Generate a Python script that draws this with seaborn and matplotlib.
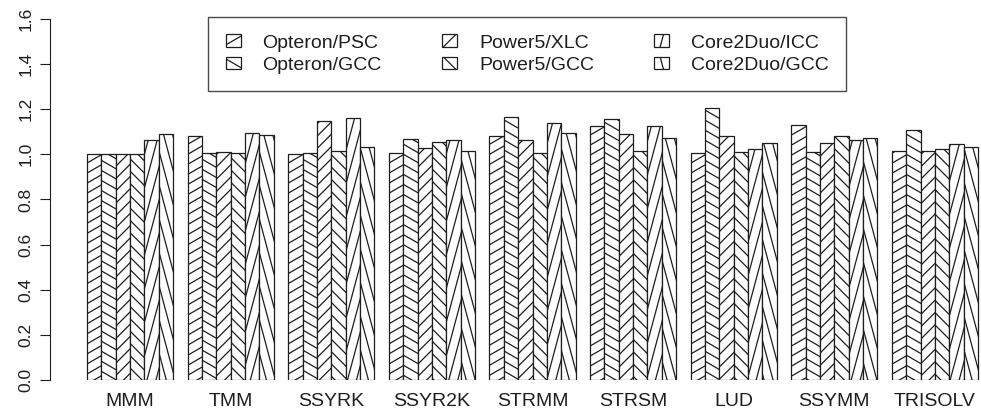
import numpy as np
import pandas as pd
import seaborn as sns
import matplotlib
matplotlib.use("Agg")
import matplotlib.pyplot as plt
from matplotlib.collections import LineCollection
from matplotlib.patches import Rectangle
from matplotlib.legend_handler import HandlerPatch

kernels = ["MMM", "TMM", "SSYRK", "SSYR2K", "STRMM", "STRSM", "LUD", "SSYMM", "TRISOLV"]
configs = ["Opteron/PSC", "Opteron/GCC", "Power5/XLC", "Power5/GCC", "Core2Duo/ICC", "Core2Duo/GCC"]

# speedup per kernel, one list per config
opteron_psc = [1.00, 1.08, 1.00, 1.005, 1.08, 1.127, 1.008, 1.13, 1.015]
opteron_gcc = [1.00, 1.005, 1.005, 1.067, 1.167, 1.157, 1.207, 1.012, 1.108]
power5_xlc = [1.00, 1.012, 1.148, 1.027, 1.064, 1.089, 1.081, 1.049, 1.015]
power5_gcc = [1.00, 1.005, 1.015, 1.054, 1.008, 1.015, 1.012, 1.083, 1.023]
core2_icc = [1.064, 1.096, 1.16, 1.064, 1.138, 1.127, 1.024, 1.064, 1.045]
core2_gcc = [1.089, 1.086, 1.034, 1.015, 1.093, 1.074, 1.049, 1.071, 1.034]

# hatch angle (degrees) for each config
angles = [30, 150, 45, 135, 75, 105]

values = [opteron_psc, opteron_gcc, power5_xlc, power5_gcc, core2_icc, core2_gcc]
df = pd.DataFrame({
    "kernel": np.tile(kernels, len(configs)),
    "config": np.repeat(configs, len(kernels)),
    "speedup": np.concatenate(values),
})

sns.set_style("white")
plt.rcParams["font.family"] = ["Liberation Sans", "DejaVu Sans"]

LINE = "#1e1e1e"
SPACING = 8.7  # px between hatch lines

fig = plt.figure(figsize=(9.81, 4.19), dpi=100)
ax = fig.add_axes([50 / 981, 39 / 419, 931 / 981, 361 / 419])

sns.barplot(data=df, x="kernel", y="speedup", hue="config", order=kernels,
            hue_order=configs, palette=["white"] * 6, width=6 / 7, gap=0,
            edgecolor=LINE, linewidth=0.9, legend=False, ax=ax, errorbar=None,
            saturation=1)

ax.set_xlim(-0.796, 8.458)
ax.set_ylim(0, 1.6)
ax.set_yticks(np.arange(0, 1.61, 0.2))
ax.set_yticklabels([f"{v:.1f}" for v in np.arange(0, 1.61, 0.2)],
                   rotation=90, va="center", fontsize=12.5, color=LINE)
ax.tick_params(axis="y", left=True, length=7, width=0.8, color=LINE, pad=5)
ax.tick_params(axis="x", bottom=False, length=0, pad=9, labelsize=14, labelcolor=LINE)
ax.set_xlabel("")
ax.set_ylabel("")
for s in ["top", "right", "bottom"]:
    ax.spines[s].set_visible(False)
ax.spines["left"].set_color(LINE)
ax.spines["left"].set_linewidth(0.8)


def hatch_lines(ax, x0, y0, x1, y1, angle):
    # build hatch segments in pixel space, return in data coords
    (px0, py0), (px1, py1) = ax.transData.transform([(x0, y0), (x1, y1)])
    cx, cy = (px0 + px1) / 2, (py0 + py1) / 2
    r = np.hypot(px1 - px0, py1 - py0) / 2 + 2
    a = np.radians(angle)
    d = np.array([np.cos(a), np.sin(a)])
    n = np.array([-np.sin(a), np.cos(a)])
    segs = []
    for o in np.arange(-r, r, SPACING):
        p = np.array([cx, cy]) + n * o
        segs.append(ax.transData.inverted().transform([p - d * r, p + d * r]))
    return segs


for cont, ang in zip(ax.containers, angles):
    for bar in cont.patches:
        x0, y0 = bar.get_x(), bar.get_y()
        segs = hatch_lines(ax, x0, y0, x0 + bar.get_width(), y0 + bar.get_height(), ang)
        lc = LineCollection(segs, colors=LINE, linewidths=0.9, zorder=bar.get_zorder() + 0.1)
        ax.add_collection(lc)
        lc.set_clip_path(bar)


class HatchHandler(HandlerPatch):
    def __init__(self, angle):
        super().__init__()
        self.angle = angle

    def create_artists(self, legend, orig_handle, xdescent, ydescent, width, height, fontsize, trans):
        w, h = 11, 9
        x0 = -xdescent
        y0 = -ydescent + (height - h) / 2
        rect = Rectangle((x0, y0), w, h, facecolor="white", edgecolor=LINE, lw=0.9, transform=trans)
        a = np.radians(self.angle)
        d = np.array([np.cos(a), np.sin(a)]) * 20
        c = np.array([x0 + w / 2, y0 + h / 2])
        lc = LineCollection([[c - d, c + d]], colors=LINE, linewidths=0.9, transform=trans)
        lc.set_clip_path(rect)
        return [rect, lc]


handles = [Rectangle((0, 0), 1, 1) for _ in configs]
hmap = {h: HatchHandler(a) for h, a in zip(handles, angles)}
leg = fig.legend(handles, configs, handler_map=hmap, ncol=3, loc="upper left",
                 bbox_to_anchor=(208 / 981, 1 - 17 / 419), fontsize=14,
                 frameon=True, fancybox=False, edgecolor=LINE, borderpad=0.9,
                 handlelength=0.6, handleheight=0.6, handletextpad=1.3,
                 columnspacing=3.1, labelspacing=0.28, borderaxespad=0)
leg.get_frame().set_linewidth(1.0)
for t in leg.get_texts():
    t.set_color(LINE)

fig.savefig("out.png", dpi=100)
